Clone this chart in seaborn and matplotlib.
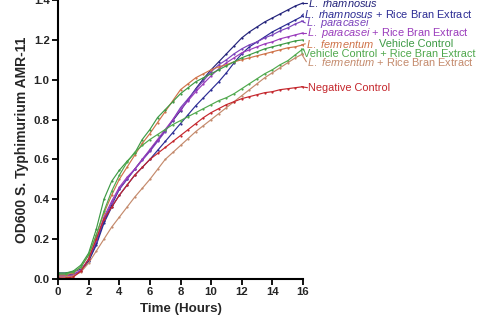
import numpy as np
import pandas as pd
import matplotlib
matplotlib.use("Agg")
import matplotlib.pyplot as plt
import seaborn as sns

# Sampling times (hours)
hours = [0, 0.5, 1, 1.5, 2, 2.5, 3, 3.5, 4, 4.5, 5, 5.5, 6, 6.5, 7, 7.5, 8,
         8.5, 9, 9.5, 10, 10.5, 11, 11.5, 12, 12.5, 13, 13.5, 14, 14.5, 15, 15.5, 16]

# OD600 growth curves for each culture condition
rhamnosus = [0.02, 0.02, 0.025, 0.04, 0.09, 0.18, 0.29, 0.37, 0.45, 0.50, 0.55, 0.60, 0.645,
             0.695, 0.745, 0.795, 0.845, 0.90, 0.955, 1.005, 1.05, 1.09, 1.13, 1.17, 1.21,
             1.24, 1.265, 1.29, 1.31, 1.33, 1.35, 1.37, 1.385]
rhamnosus_rbe = [0.03, 0.03, 0.035, 0.05, 0.09, 0.17, 0.28, 0.36, 0.42, 0.47, 0.52, 0.56, 0.60,
                 0.645, 0.69, 0.735, 0.78, 0.825, 0.87, 0.91, 0.95, 0.99, 1.035, 1.085, 1.13,
                 1.165, 1.19, 1.215, 1.24, 1.26, 1.28, 1.30, 1.32]
paracasei = [0.01, 0.015, 0.02, 0.04, 0.10, 0.19, 0.30, 0.38, 0.45, 0.50, 0.55, 0.595, 0.64,
             0.69, 0.74, 0.80, 0.86, 0.905, 0.95, 0.995, 1.04, 1.075, 1.10, 1.13, 1.155,
             1.175, 1.19, 1.21, 1.225, 1.245, 1.26, 1.28, 1.295]
paracasei_rbe = [0.015, 0.015, 0.02, 0.045, 0.10, 0.20, 0.31, 0.39, 0.46, 0.51, 0.55, 0.60, 0.65,
                 0.70, 0.75, 0.80, 0.85, 0.895, 0.94, 0.98, 1.02, 1.055, 1.085, 1.11, 1.135,
                 1.15, 1.165, 1.18, 1.19, 1.205, 1.215, 1.225, 1.235]
fermentum = [0.02, 0.02, 0.03, 0.06, 0.12, 0.22, 0.33, 0.42, 0.50, 0.56, 0.62, 0.68, 0.73,
             0.785, 0.84, 0.895, 0.95, 0.98, 1.01, 1.03, 1.05, 1.065, 1.075, 1.09, 1.10,
             1.11, 1.12, 1.13, 1.14, 1.15, 1.16, 1.165, 1.175]
vehicle = [0.03, 0.03, 0.04, 0.07, 0.13, 0.25, 0.40, 0.49, 0.545, 0.59, 0.63, 0.70, 0.75,
           0.81, 0.85, 0.89, 0.93, 0.96, 0.99, 1.01, 1.03, 1.05, 1.07, 1.09, 1.11,
           1.125, 1.14, 1.155, 1.165, 1.175, 1.185, 1.195, 1.20]
vehicle_rbe = [0.025, 0.025, 0.035, 0.06, 0.12, 0.22, 0.34, 0.44, 0.52, 0.585, 0.635, 0.67, 0.70,
               0.725, 0.75, 0.775, 0.795, 0.815, 0.835, 0.855, 0.875, 0.895, 0.91, 0.93, 0.955,
               0.98, 1.005, 1.03, 1.05, 1.075, 1.095, 1.125, 1.155]
fermentum_rbe = [0.01, 0.01, 0.015, 0.035, 0.08, 0.14, 0.20, 0.26, 0.31, 0.36, 0.41, 0.455, 0.50,
                 0.55, 0.60, 0.635, 0.67, 0.705, 0.74, 0.77, 0.80, 0.83, 0.86, 0.89, 0.92,
                 0.95, 0.98, 1.01, 1.035, 1.06, 1.085, 1.11, 1.13]
negative = [0.005, 0.005, 0.01, 0.04, 0.10, 0.20, 0.30, 0.36, 0.42, 0.47, 0.52, 0.56, 0.60,
            0.63, 0.66, 0.69, 0.72, 0.75, 0.78, 0.81, 0.835, 0.855, 0.875, 0.89, 0.905,
            0.915, 0.925, 0.935, 0.94, 0.95, 0.955, 0.96, 0.965]

series = {
    "rhamnosus": rhamnosus,
    "rhamnosus_rbe": rhamnosus_rbe,
    "paracasei": paracasei,
    "paracasei_rbe": paracasei_rbe,
    "fermentum": fermentum,
    "vehicle": vehicle,
    "vehicle_rbe": vehicle_rbe,
    "fermentum_rbe": fermentum_rbe,
    "negative": negative,
}

colors = {
    "rhamnosus": "#23237a",
    "rhamnosus_rbe": "#2c2c94",
    "paracasei": "#7a42bb",
    "paracasei_rbe": "#9a3cbc",
    "fermentum": "#cf7248",
    "vehicle": "#3d9a45",
    "vehicle_rbe": "#4fa84c",
    "fermentum_rbe": "#c48a6c",
    "negative": "#c4262c",
}

df = pd.concat(
    [pd.DataFrame({"Time": hours, "OD": vals, "Group": name}) for name, vals in series.items()],
    ignore_index=True,
)

sns.set_style("ticks")
plt.rcParams["font.family"] = ["Liberation Sans", "DejaVu Sans"]
plt.rcParams["mathtext.fontset"] = "custom"
plt.rcParams["mathtext.rm"] = "Liberation Sans"
plt.rcParams["mathtext.it"] = "Liberation Sans:italic"

fig = plt.figure(figsize=(4.79, 3.30), dpi=100)
ax = fig.add_axes([58 / 479, 51 / 330, 245 / 479, 279 / 330])

sns.lineplot(data=df, x="Time", y="OD", hue="Group", palette=colors, ax=ax,
             linewidth=0.85, marker="o", markersize=1.6, markeredgewidth=0,
             legend=False, sort=False)

ax.set_xlim(0, 16)
ax.set_ylim(0, 1.4)
ax.set_xticks(np.arange(0, 17, 2))
ax.set_yticks(np.round(np.arange(0, 1.41, 0.2), 1))
ax.set_yticklabels([f"{v:.1f}" for v in np.arange(0, 1.41, 0.2)])
for lab in ax.get_xticklabels() + ax.get_yticklabels():
    lab.set_fontweight("bold")
    lab.set_fontsize(8.2)
ax.tick_params(axis="both", length=4, width=1.3, pad=2, color="black")
for side in ("left", "bottom"):
    ax.spines[side].set_linewidth(1.5)
    ax.spines[side].set_color("black")
sns.despine(ax=ax)

ax.set_xlabel("Time (Hours)", fontsize=9.6, fontweight="bold", labelpad=4)
ax.set_ylabel("OD600 S. Typhimurium AMR-11", fontsize=10, fontweight="bold", labelpad=3)

# Direct labels at the curve ends
end_labels = [
    ("rhamnosus", r"$\it{L.\ rhamnosus}$", 16.34, 1.385),
    ("rhamnosus_rbe", r"$\it{L.\ rhamnosus}$ + Rice Bran Extract", 16.08, 1.33),
    ("paracasei", r"$\it{L.\ paracasei}$", 16.2, 1.285),
    ("paracasei_rbe", r"$\it{L.\ paracasei}$ + Rice Bran Extract", 16.27, 1.235),
    ("fermentum", r"$\it{L.\ fermentum}$", 16.2, 1.18),
    ("vehicle", "Vehicle Control", 20.95, 1.18),
    ("vehicle_rbe", "Vehicle Control + Rice Bran Extract", 16.0, 1.13),
    ("fermentum_rbe", r"$\it{L.\ fermentum}$ + Rice Bran Extract", 16.27, 1.09),
    ("negative", "Negative Control", 16.34, 0.96),
]
for key, text, tx, ty in end_labels:
    c = colors[key]
    ax.text(tx, ty, text, color=c, fontsize=7.9, va="center", ha="left", clip_on=False)
    if key != "vehicle":
        y_end = series[key][-1]
        ax.plot([15.9, tx - 0.05], [y_end, ty], color=c, lw=0.8, clip_on=False)

fig.savefig("out.png", dpi=100, facecolor="white")
